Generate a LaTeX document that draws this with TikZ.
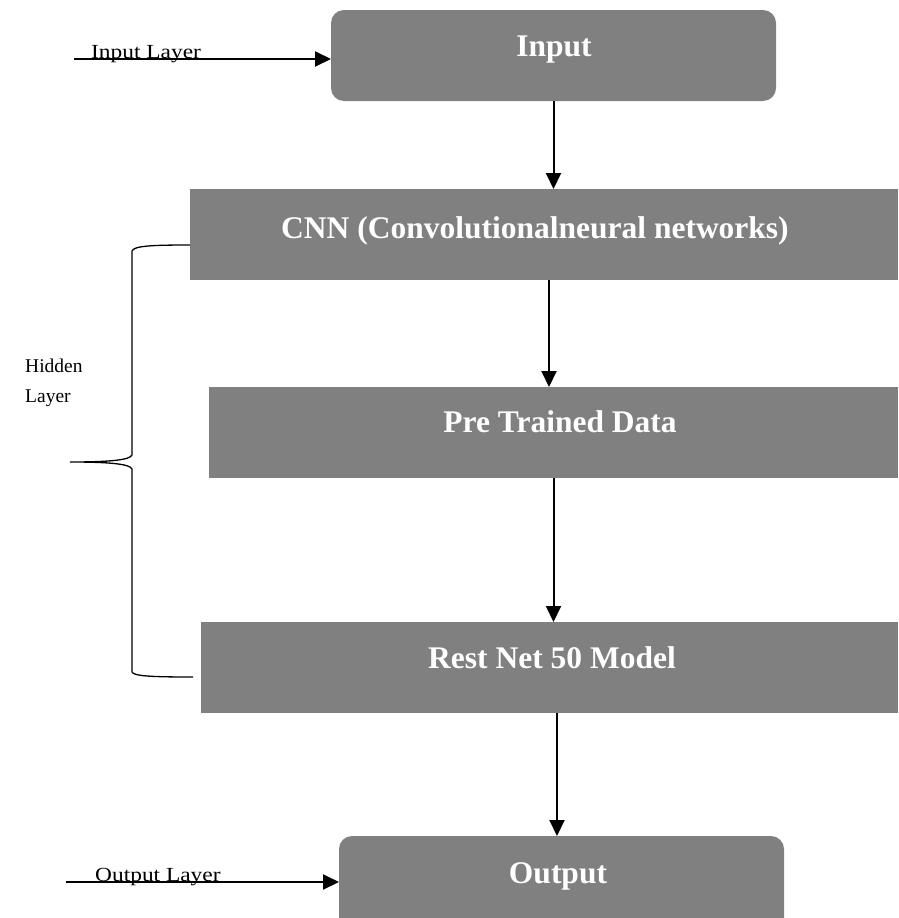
\documentclass[tikz,border=0pt]{standalone}
\usepackage{fontspec}
\setmainfont{Liberation Serif}
\usetikzlibrary{arrows.meta,calc}
\definecolor{boxgray}{HTML}{808080}
\tikzset{
  layerbox/.style={fill=boxgray, draw=none, inner sep=0pt, outer sep=0pt},
  boxtext/.style={text=white, font=\bfseries\fontsize{31.5}{36}\selectfont, inner sep=0pt, anchor=base},
  sidetext/.style={text=black, font=\fontsize{19.5}{23}\selectfont, inner sep=0pt, anchor=base west},
  portlabel/.style={sidetext, font=\fontsize{20}{24}\selectfont},
  arr/.style={draw=black, line width=2pt, -{Triangle[length=16pt,width=15pt]}},
  bracestyle/.style={draw=black, line width=1.3pt},
}
\begin{document}
\begin{tikzpicture}[x=1pt,y=-1pt]
\useasboundingbox (0,0) rectangle (898,918);
\clip (0,0) rectangle (898,918);
% boxes
\node[layerbox, rounded corners=13pt, minimum width=445pt, minimum height=91pt] (input) at (553.5,55.5) {};
\node[layerbox, minimum width=708pt, minimum height=91pt] (cnn) at (544,234.5) {};
\node[layerbox, minimum width=689pt, minimum height=91pt] (pre) at (553.5,432.5) {};
\node[layerbox, minimum width=697pt, minimum height=91pt] (rest) at (549.5,667.5) {};
\node[layerbox, rounded corners=13pt, minimum width=445pt, minimum height=100pt] (output) at (561.5,886) {};
% box texts
\node[boxtext] (tinput) at (554,56) {Input};
\node[boxtext] (tcnn) at (535,238) {CNN (Convolutionalneural networks)};
\node[boxtext] (tpre) at (560,432) {Pre Trained Data};
\node[boxtext] (trest) at (552,668) {Rest Net 50 Model};
\node[boxtext] (toutput) at (558,883) {Output};
% side labels
\node[portlabel] (inlabel) at (91,58) {\scalebox{1.17}[1]{Input Layer}};
\node[portlabel] (outlabel) at (95,881) {\scalebox{1.17}[1]{Output Layer}};
\node[sidetext] (hid1) at (25,372) {Hidden};
\node[sidetext] (hid2) at (25,402) {Layer};
% free ends
\coordinate (inL) at (74,59);
\coordinate (outL) at (66,882);
% arrows
\draw[arr] (inL) -- (input.west |- inL);
\draw[arr] (outL) -- (output.west |- outL);
\draw[arr] (input.south) -- (input.south |- cnn.north);
\draw[arr] ([xshift=5pt]cnn.south) -- ([xshift=5pt]cnn.south |- pre.north);
\draw[arr] (pre.south) -- (pre.south |- rest.north);
\draw[arr] ([xshift=-4.5pt]output.north |- rest.south) -- ([xshift=-4.5pt]output.north);
% brace
\draw[bracestyle] (cnn.west |- 0,245) .. controls (150,245) and (134,246) .. (132,251) -- (132,455)
  .. controls (130,460) and (110,462) .. (70,462)
  .. controls (110,462) and (130,464) .. (132,469) -- (132,672)
  .. controls (134,676) and (150,677) .. (193,677);
\end{tikzpicture}
\end{document}
